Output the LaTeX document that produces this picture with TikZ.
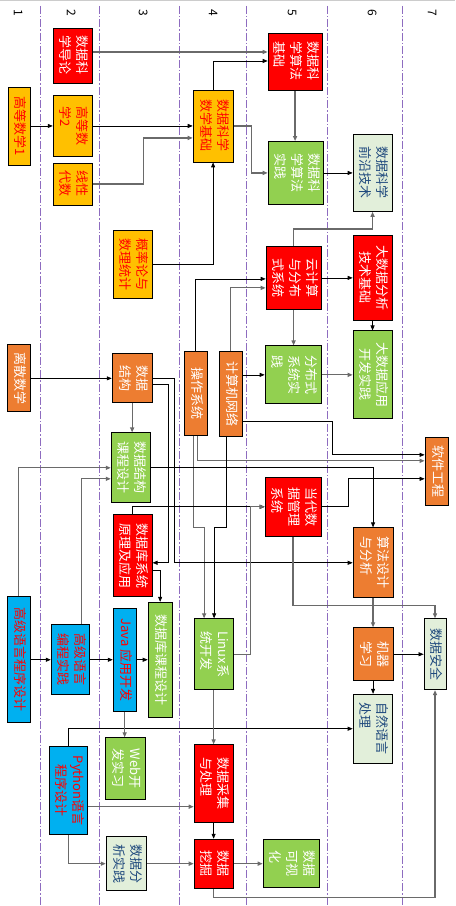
\documentclass[tikz,border=0pt]{standalone}
\usepackage{fontspec}
\setmainfont{Noto Sans CJK SC}
\usepackage{graphicx}
\usepackage{tikz}
\usetikzlibrary{arrows.meta}
\pgfdeclarelayer{bg}
\pgfsetlayers{bg,main}

\definecolor{boxred}{HTML}{FF0000}
\definecolor{boxyellow}{HTML}{FFC000}
\definecolor{boxorange}{HTML}{ED7D31}
\definecolor{boxgreen}{HTML}{92D050}
\definecolor{boxpale}{HTML}{E2EFDA}
\definecolor{boxblue}{HTML}{00B0F0}
\definecolor{paletext}{HTML}{1F497D}
\definecolor{sepline}{HTML}{8E6CC0}
\definecolor{linkgray}{HTML}{6A6A6A}

\newcommand{\vt}[1]{\rotatebox{-90}{\begin{tabular}{@{}l@{}}#1\end{tabular}}}
\newcommand{\vtc}[1]{\rotatebox{-90}{\begin{tabular}{@{}c@{}}#1\end{tabular}}}

\tikzset{
        cbox/.style={draw=black, line width=0.8pt, inner sep=0pt, font=\fontsize{13}{17}\selectfont},
        redbox/.style={cbox, fill=boxred, text=white},
        yellowbox/.style={cbox, fill=boxyellow, text=boxred},
        orangebox/.style={cbox, fill=boxorange, text=white},
        greenbox/.style={cbox, fill=boxgreen, text=white},
        palebox/.style={cbox, fill=boxpale, text=paletext},
        bluebox/.style={cbox, fill=boxblue, text=boxred},
        sz/.style 2 args={minimum width=#1pt, minimum height=#2pt},
        link/.style={draw=black, line width=0.7pt, -{Triangle[length=5pt,width=4pt]}},
        glink/.style={draw=linkgray, line width=1.2pt, -{Triangle[length=5pt,width=4pt]}},
        colsep/.style={draw=sepline, line width=0.7pt, dash pattern=on 8pt off 2pt on 1.5pt off 2pt},
}

\begin{document}
\begin{tikzpicture}[x=1pt, y=-1pt]
        \begin{pgfonlayer}{bg}
                \fill [white] (0,0) rectangle (455,906);
                \draw [gray!40] (0,0.5) -- (455,0.5);
                \foreach \x in {40,99,179,246,327,402}
                        \draw [colsep] (\x,6) -- (\x,906);
        \end{pgfonlayer}
        \useasboundingbox (0,0) rectangle (455,906);
        \foreach \n/\x in {1/18,2/71,3/143,4/213,5/292,6/372,7/432}
                \node (c\n) [rotate=-90, font=\fontsize{12}{14}\selectfont] at (\x,13) {\n};

        % column 1
        \node (gdsx1) [yellowbox, sz={22}{78}] at (19,126) {\vt{高等数学1}};
        \node (lssx) [orangebox, sz={23}{67}] at (18.5,378.5) {\vt{离散数学}};
        \node (gjyy) [bluebox, sz={23}{126}] at (18.5,660) {\vt{高级语言程序设计}};
        % column 2
        \node (sjkxdl) [redbox, sz={39}{55}] at (72.5,55.5) {\vt{数据科\\学导论}};
        \node (gdsx2) [yellowbox, sz={39}{61}] at (72.5,126) {\vt{高等数\\学2}};
        \node (xxds) [yellowbox, sz={39}{42}] at (72.5,184) {\vt{线性\\代数}};
        \node (gjbc) [bluebox, sz={38}{70}] at (70,660) {\vt{高级语言\\编程实践}};
        \node (python) [bluebox, sz={38}{88}] at (68,791) {\vtc{Python语言\\程序设计}};
        % column 3
        \node (gll) [yellowbox, sz={39}{69}] at (132.5,264.5) {\vt{概率论与\\数理统计}};
        \node (sjjg) [orangebox, sz={40}{49}] at (132,378.5) {\vt{数据\\结构}};
        \node (sjjgkc) [greenbox, sz={39}{70}] at (130.5,468) {\vt{数据结构\\课程设计}};
        \node (sjkyl) [redbox, sz={39}{82}] at (132.5,556) {\vt{数据库系统\\原理及应用}};
        \node (java) [bluebox, sz={23}{103}] at (124.5,660) {\vt{Java 应用开发}};
        \node (sjkkc) [greenbox, sz={24}{115}] at (160,660) {\vt{数据库课程设计}};
        \node (web) [greenbox, sz={40}{62}] at (125,769) {\vt{Web开\\发实习}};
        \node (sjfx) [palebox, sz={40}{54}] at (126,864) {\vt{数据分\\析实践}};
        % column 4
        \node (sxjc) [yellowbox, sz={40}{72}] at (213,126) {\vt{数据科学\\数学基础}};
        \node (czxt) [orangebox, sz={23}{84}] at (195.5,394) {\vt{操作系统}};
        \node (jsjwl) [orangebox, sz={23}{85}] at (230.5,394.5) {\vt{计算机网络}};
        \node (linux) [greenbox, sz={39}{71}] at (213.5,654.5) {\vt{Linux系\\统开发}};
        \node (sjcj) [redbox, sz={39}{78}] at (213.5,784) {\vt{数据采集\\与处理}};
        \node (sjwj) [redbox, sz={39}{49}] at (213.5,864) {\vt{数据\\挖掘}};
        % column 5
        \node (sfjc) [redbox, sz={54}{57}] at (295,61.5) {\vt{数据科\\学算法\\基础}};
        \node (sfsj) [greenbox, sz={55}{63}] at (295.5,173) {\vt{数据科\\学算法\\实践}};
        \node (yjs) [redbox, sz={55}{64}] at (293.5,278) {\vt{云计算\\与分布\\式系统}};
        \node (fbs) [greenbox, sz={56}{58}] at (293,375) {\vt{分布式\\系统实\\践}};
        \node (ddsj) [redbox, sz={56}{59}] at (293,507) {\vt{当代数\\据管理\\系统}};
        \node (ksh) [greenbox, sz={56}{48}] at (291,864) {\vt{数据\\可视\\化}};
        % column 6
        \node (qy) [palebox, sz={39}{77}] at (372.5,173) {\vt{数据科学\\前沿技术}};
        \node (dsjfx) [redbox, sz={39}{85}] at (372.5,278) {\vtc{大数据分析\\技术基础}};
        \node (dsjyy) [greenbox, sz={39}{88}] at (372.5,375) {\vtc{大数据应用\\开发实践}};
        \node (sfsj2) [orangebox, sz={40}{70}] at (373,563) {\vt{算法设计\\与分析}};
        \node (jqxx) [orangebox, sz={40}{53}] at (373,654.5) {\vt{机器\\学习}};
        \node (zryy) [palebox, sz={39}{69}] at (372.5,729) {\vt{自然语言\\处理}};
        % column 7
        \node (rjgc) [orangebox, sz={23}{68}] at (436.5,472) {\vt{软件工程}};
        \node (sjaq) [palebox, sz={22}{71}] at (435,654.5) {\vt{数据安全}};

        \begin{pgfonlayer}{bg}
                \draw [link] (gdsx1) -- (gdsx2);
                \draw [glink] (sjkxdl.east |- 0,52) -- (sfjc.west |- 0,52);
                \draw [link] (gdsx2) -- (sxjc);
                \draw [glink] (xxds.east) -| (143,138) -- (sxjc.west |- 0,138);
                \draw [link] (sxjc.north) |- (sfjc.west |- 0,61);
                \draw [link] (gll.east) -| (sxjc.south);
                \draw [glink] (sfjc.south) -- (sfjc.south |- sfsj.north);
                \draw [glink] (sxjc.east) -| (251,173) -- (sfsj.west);
                \draw [link] (sfsj) -- (qy);
                \draw [glink] (yjs.north) |- (372.5,229) -- (qy.south);
                \draw [link] (czxt.north) |- (yjs.west |- 0,279);
                \draw [glink] (jsjwl.north) |- (yjs.west |- 0,288);
                \draw [link] (yjs) -- (dsjfx);
                \draw [glink] (yjs.south) -- (yjs.south |- fbs.north);
                \draw [link] (dsjfx) -- (dsjyy);
                \draw [link] (jsjwl.east |- 0,375) -- (fbs.west);
                \draw [glink] (fbs) -- (dsjyy);
                \draw [link] (jsjwl.east |- 0,422) -| (332,455) -- (rjgc.west |- 0,455);
                \draw [glink] (czxt.south -| 197,0) |- (rjgc.west |- 0,461);
                \draw [glink] (czxt.south -| 193,0) |- (204,528) -- (linux.north -| 204,0);
                \draw [link] (jsjwl.south -| 226,0) |- (214,528) -- (linux.north -| 214,0);
                \draw [link] (sjjgkc.east) -| (sfsj2.north);
                \draw [glink] (gjyy.north) |- (sjjgkc.west);
                \draw [glink] (gjbc.north -| 81,0) |- (sjjgkc.west |- 0,479);
                \draw [link] (lssx) -- (sjjg);
                \draw [glink] (sjjg.south) -- (sjjg.south |- sjjgkc.north);
                \draw [link] (sjjg.east |- 0,378) -| (174,563) -- (sfsj2.west);
                \draw [link] (sjjg.east |- 0,384) -| (168,563) -- (sjkyl.east |- 0,563);
                \draw [link] (sjkyl.north) |- (ddsj.west);
                \draw [glink] (linux.east) -| (250,507) -- (ddsj.west);
                \draw [link] (ddsj.east) -| (348,479) -- (rjgc.west |- 0,479);
                \draw [glink] (ddsj.south) |- (sjaq.north |- 0,606) -- (sjaq.north);
                \draw [glink] (sfsj2) -- (jqxx);
                \draw [link] (jqxx) -- (sjaq);
                \draw [link] (jqxx.south) -- (jqxx.south |- zryy.north);
                \draw [glink] (sjwj.south) |- (sjaq.south |- 0,898) -- (sjaq.south);
                \draw [glink] (sjwj) -- (ksh);
                \draw [link] (sjcj) -- (sjwj);
                \draw [glink] (python.east |- 0,807) -- (sjcj.west |- 0,807);
                \draw [glink] (python.south) |- (sjfx.west);
                \draw [glink] (sjfx) -- (sjwj);
                \draw [link] (python.north) |- (zryy.west);
                \draw [glink] (linux) -- (sjcj);
                \draw [glink] (java.south) -- (java.south |- web.north);
                \draw [link] (gjyy) -- (gjbc);
                \draw [link] (gjbc) -- (java);
                \draw [link] (java) -- (sjkkc);
                \draw [link] (sjkyl.east |- 0,571) -| (sjkkc.north);
        \end{pgfonlayer}
\end{tikzpicture}
\end{document}
